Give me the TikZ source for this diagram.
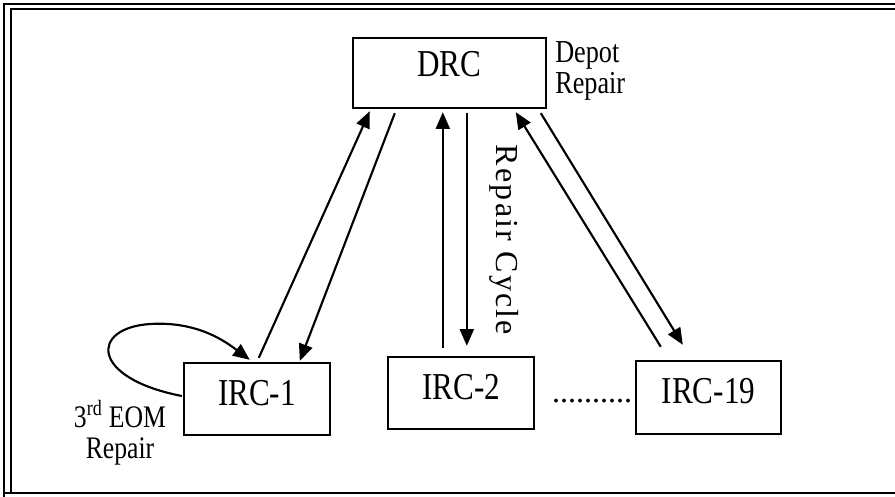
\documentclass[tikz,border=0pt]{standalone}
\usepackage{fontspec}
\setmainfont{Liberation Serif}
\newfontfamily\cond[FakeStretch=0.82]{Liberation Serif}
\usetikzlibrary{arrows.meta,calc}
\begin{document}
\begin{tikzpicture}[x=0.75pt,y=-0.75pt,
  box/.style={draw,line width=1.8pt,inner sep=0pt,font=\cond\fontsize{28.5}{30}\selectfont,text depth=9.5pt},
  arr/.style={line width=1.6pt,-{Triangle[length=12.5pt,width=10.5pt]}},
  lbl/.style={inner sep=0pt,align=center,font=\cond\fontsize{23.5}{23}\selectfont}]
\useasboundingbox (0,0) rectangle (895,496);
% frame
\draw[line width=2pt] (4,500) -- (4,4) -- (900,4);
\draw[line width=1.5pt] (11,492) -- (11,9) -- (900,9);
\draw[line width=2.2pt] (4,493) -- (900,493);
% boxes
\node[box,minimum width=144.75pt,minimum height=52.5pt,text depth=13.5pt] (drc) at (449.5,73) {DRC};
\node[box,minimum width=109.5pt,minimum height=54pt] (irc1) at (257,399) {IRC-1\hspace{8pt}};
\node[box,minimum width=109.5pt,minimum height=54pt] (irc2) at (461,393) {IRC-2};
\node[box,minimum width=108.75pt,minimum height=54.75pt] (irc19) at (708.5,397.5) {IRC-19};
% labels
\node[lbl,anchor=west,align=left,font=\cond\fontsize{24}{23}\selectfont] (depot) at (555,71) {Depot\\Repair};
\node[lbl] (eom) at (120,433) {3\textsuperscript{rd} EOM\\Repair};
\node[inner sep=0pt,rotate=-90,font=\fontsize{24}{26}\selectfont\addfontfeature{LetterSpace=7}] (cycle) at (504,240) {Repair Cycle};
\node[inner sep=0pt,font=\fontsize{24}{24}\selectfont] (dots) at (592,401) {..........};
% arrows
\draw[arr] ($(irc1.north west)+(76,-4)$) -- ($(drc.south west)+(18,2)$);
\draw[arr] ($(drc.south west)+(43,4)$) -- ($(irc1.north west)+(117,-1)$);
\draw[arr] ($(irc2.north west)+(56,-8)$) -- ($(drc.south west)+(91,3)$);
\draw[arr] ($(drc.south west)+(115,4)$) -- ($(irc2.north west)+(80,-10)$);
\draw[arr] ($(irc19.north west)+(26,-13)$) -- ($(drc.south west)+(164,3)$);
\draw[arr] ($(drc.south west)+(189,4)$) -- ($(irc19.north west)+(48,-15)$);
% self loop
\draw[arr] ($(irc1.west)+(-1,-3)$) .. controls (90,378) and (90,328) .. (150,324)
  .. controls (198,321) and (226,342) .. ($(irc1.north west)+(67,-2)$);
\end{tikzpicture}
\end{document}
